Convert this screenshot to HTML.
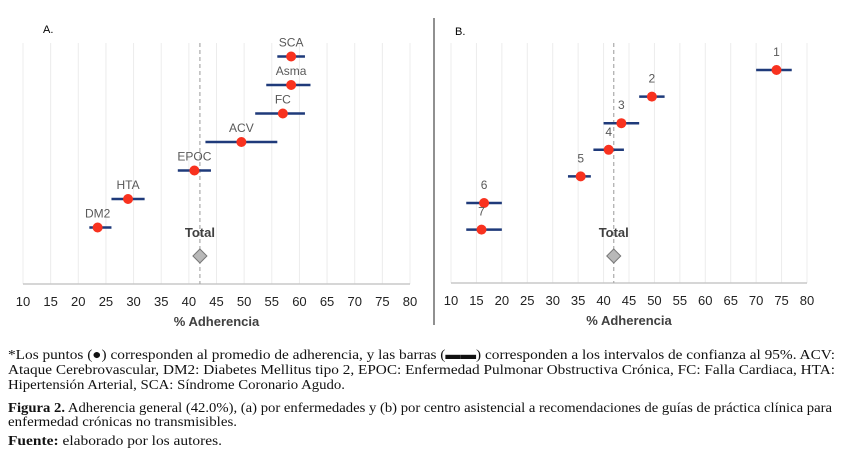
<!DOCTYPE html>
<html><head><meta charset="utf-8"><style>
html,body{margin:0;padding:0;background:#fff;width:844px;height:460px;overflow:hidden}
svg{display:block}
</style></head><body>
<svg id="fig" width="844" height="460" xmlns="http://www.w3.org/2000/svg">
<line x1="434" y1="18" x2="434" y2="325" stroke="#222" stroke-width="1"/>
<text x="43" y="33" font-family="Liberation Sans, sans-serif" font-size="11" fill="#000">A.</text>
<text x="455" y="35" font-family="Liberation Sans, sans-serif" font-size="11" fill="#000">B.</text>
<g id="pa"></g>
<g id="pb"></g>
<g font-family="Liberation Serif, serif" font-size="14" fill="#111">
<text x="8" y="359" textLength="827" lengthAdjust="spacingAndGlyphs">*Los puntos (●) corresponden al promedio de adherencia, y las barras (▬▬) corresponden a los intervalos de confianza al 95%. ACV:</text>
<text x="8" y="374" textLength="827" lengthAdjust="spacingAndGlyphs">Ataque Cerebrovascular, DM2: Diabetes Mellitus tipo 2, EPOC: Enfermedad Pulmonar Obstructiva Crónica, FC: Falla Cardiaca, HTA:</text>
<text x="8" y="389" textLength="337" lengthAdjust="spacingAndGlyphs">Hipertensión Arterial, SCA: Síndrome Coronario Agudo.</text>
<text x="8" y="412" textLength="824" lengthAdjust="spacingAndGlyphs"><tspan font-weight="bold">Figura 2.</tspan> Adherencia general (42.0%), (a) por enfermedades y (b) por centro asistencial a recomendaciones de guías de práctica clínica para</text>
<text x="8" y="426" textLength="229" lengthAdjust="spacingAndGlyphs">enfermedad crónicas no transmisibles.</text>
<text x="8" y="445" textLength="214" lengthAdjust="spacingAndGlyphs"><tspan font-weight="bold">Fuente:</tspan> elaborado por los autores.</text>
</g>
</svg>
<script>
const ticks=[10,15,20,25,30,35,40,45,50,55,60,65,70,75,80];
const catsA=["SCA","Asma","FC","ACV","EPOC","HTA","DM2"];
const meanA=[58.5,58.5,57,49.5,41,29,23.5];
const lowA=[56,54,52,43,38,26,22];
const highA=[61,62,61,56,44,32,26];
const catsB=["1","2","3","4","5","6","7"];
const meanB=[74,49.5,43.5,41,35.5,16.5,16];
const lowB=[70,47,40,38,33,13,13];
const highB=[77,52,47,44,37.5,20,20];
const totalVal=42;
const NS="http://www.w3.org/2000/svg";
function mk(p,t,a){const e=document.createElementNS(NS,t);for(const k in a)e.setAttribute(k,a[k]);p.appendChild(e);return e;}
function panel(g,cfg,cats,mean,low,high){
  const x=v=>cfg.x0+(v-10)*(cfg.x1-cfg.x0)/70;
  const y=i=>cfg.yTop+i*cfg.step;
  ticks.forEach(t=>{
    const l=mk(g,"line",{x1:x(t),x2:x(t),y1:43,y2:cfg.axisY,stroke:"#ececec","stroke-width":1});
    
    
    const tx=mk(g,"text",{x:x(t),y:cfg.axisY+22,"text-anchor":"middle","font-family":"Liberation Sans, sans-serif","font-size":"13",fill:"#222"});
    tx.textContent=t;
    
    
  });
  const ax=mk(g,"line",{x1:x(10),x2:x(80),y1:cfg.axisY,y2:cfg.axisY,stroke:"#c8c8c8","stroke-width":1.5});
  
  
  const rl=mk(g,"line",{x1:x(totalVal),x2:x(totalVal),y1:43,y2:cfg.axisY,stroke:"#aaa","stroke-width":1.2,"stroke-dasharray":"4,3"});
  
  
  const at=mk(g,"text",{x:(x(10)+x(80))/2,y:cfg.axisY+42,"text-anchor":"middle","font-family":"Liberation Sans, sans-serif","font-size":"13","font-weight":"bold",fill:"#404040"});
  at.textContent="% Adherencia";
  
  
  cats.forEach((c,i)=>{
    const cy=y(i);
    const b=mk(g,"line",{x1:x(low[i]),x2:x(high[i]),y1:cy,y2:cy,stroke:"#1f3a7a","stroke-width":2.5});
    
    
    const d=mk(g,"circle",{cx:x(mean[i]),cy:cy,r:5,fill:"#f8321f"});
    
    
    const t=mk(g,"text",{x:x(mean[i]),y:cy-cfg.lab,"text-anchor":"middle","font-family":"Liberation Sans, sans-serif","font-size":"12",fill:"#595959"});
    t.textContent=c;
    
    
  });
  const tx=x(totalVal), ty=cfg.totalY;
  const tt=mk(g,"text",{x:tx,y:ty-19,"text-anchor":"middle","font-family":"Liberation Sans, sans-serif","font-size":"13","font-weight":"bold",fill:"#404040"});
  tt.textContent="Total";
  
  
  const dm=mk(g,"polygon",{points:`${tx},${ty-7} ${tx+7},${ty} ${tx},${ty+7} ${tx-7},${ty}`,fill:"#b8b8b8",stroke:"#777","stroke-width":1});
  
  
}
panel(document.getElementById("pa"),{x0:23,x1:410,axisY:284,yTop:56.5,step:28.5,totalY:256,lab:10},catsA,meanA,lowA,highA);
panel(document.getElementById("pb"),{x0:451,x1:807,axisY:283,yTop:70,step:26.6,totalY:256,lab:14},catsB,meanB,lowB,highB);
</script>
</body></html>
